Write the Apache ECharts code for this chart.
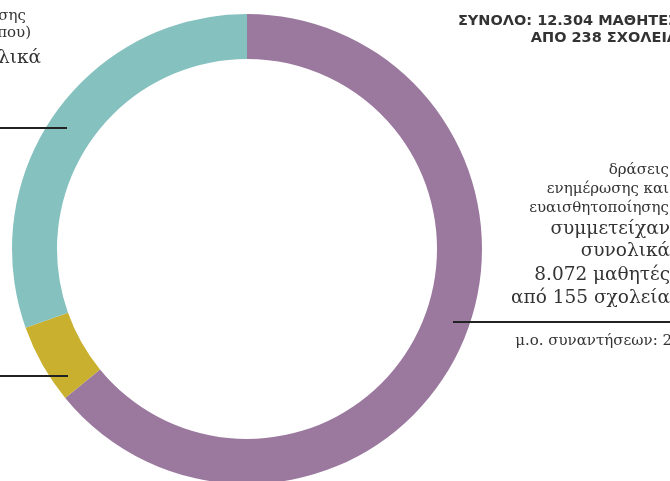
<!DOCTYPE html>
<html>
<head>
<meta charset="utf-8">
<script src="https://cdn.jsdelivr.net/npm/echarts@6/dist/echarts.min.js"></script>
<style>
html,body{margin:0;padding:0;background:#fff;}
#chart{width:670px;height:481px;}
</style>
</head>
<body>
<div id="chart"></div>
<script>
// Data (values of the ring segments, clockwise from 12 o'clock)
const categories = ['δράσεις ενημέρωσης και ευαισθητοποίησης', 'δράσεις (κίτρινο)', 'δράσεις (τιρκουάζ)'];
const values = [8072, 690, 3835];
const colors = ['#9b799f', '#c9b12f', '#85c1bf'];

const heading = ['ΣΥΝΟΛΟ: 12.304 ΜΑΘΗΤΕΣ', 'ΑΠΟ 238 ΣΧΟΛΕΙΑ'];
const rightSmall = ['δράσεις', 'ενημέρωσης και', 'ευαισθητοποίησης'];
const rightLarge = ['συμμετείχαν', 'συνολικά', '8.072 μαθητές', 'από 155 σχολεία'];
const rightNote = 'μ.ο. συναντήσεων: 2';
const leftSmall = ['εργαστήρια ενδυνάμωσης', '(εκτός σχολικού τόπου)'];
const leftLarge = 'συμμετείχαν συνολικά';

const chart = echarts.init(document.getElementById('chart'), null, {renderer: 'canvas'});
const serif = '"DejaVu Serif", serif';
const sans = '"DejaVu Sans", "Open Sans", sans-serif';
const txt = '#333333';

function t(text, x, y, size, align, family, weight) {
  return {type: 'text', silent: true, style: {text: text, x: x, y: y, fill: txt,
    font: (weight || 'normal') + ' ' + size + 'px ' + family, textAlign: align, textVerticalAlign: 'middle'}};
}
function ln(x1, y1, x2, y2) {
  return {type: 'line', silent: true, z: 10, shape: {x1: x1, y1: y1, x2: x2, y2: y2}, style: {stroke: '#222222', lineWidth: 2}};
}

const graphics = [];
graphics.push(t(heading[0], 678, 21, 14.5, 'right', sans, 'bold'));
graphics.push(t(heading[1], 678, 38, 14.5, 'right', sans, 'bold'));
[170, 189, 208].forEach((y, i) => graphics.push(t(rightSmall[i], 669, y, 15, 'right', serif)));
[229, 251, 275, 298].forEach((y, i) => graphics.push(t(rightLarge[i], 670, y, 18.5, 'right', serif)));
graphics.push(t(rightNote, 672, 341, 15, 'right', serif));
graphics.push(t(leftSmall[0], 26, 16, 15, 'right', serif));
graphics.push(t(leftSmall[1], 31, 33, 15, 'right', serif));
graphics.push(t(leftLarge, 41, 58, 18.5, 'right', serif));
graphics.push(ln(0, 128, 67, 128));
graphics.push(ln(0, 376, 68, 376));
graphics.push(ln(453, 322, 672, 322));

chart.setOption({
  animation: false,
  series: [{
    type: 'pie',
    center: [247, 249],
    radius: [190, 235],
    startAngle: 90,
    clockwise: true,
    silent: true,
    label: {show: false},
    labelLine: {show: false},
    itemStyle: {borderWidth: 0},
    data: categories.map((c, i) => ({name: c, value: values[i], itemStyle: {color: colors[i]}}))
  }],
  graphic: graphics
});
</script>
</body>
</html>
